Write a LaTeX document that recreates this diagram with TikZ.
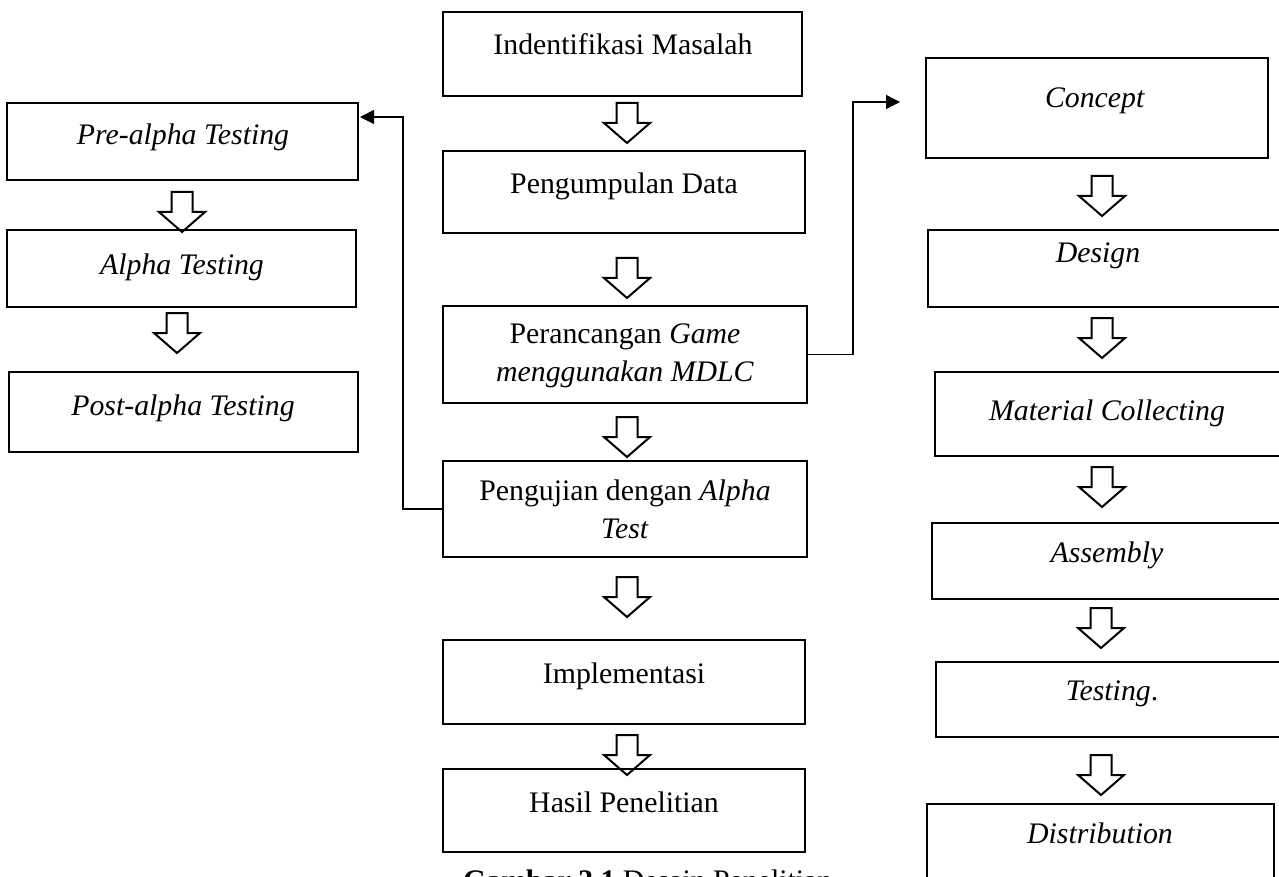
\documentclass[tikz,border=0pt]{standalone}
\usepackage{fontspec}
\setmainfont{Liberation Serif}
\usetikzlibrary{arrows.meta}
\newcommand{\twoline}[2]{\begin{tabular}[t]{@{}c@{}}#1\\#2\end{tabular}}
\newcommand{\boxnode}[5]{\node[box, minimum width={#4-#2}, minimum height={#5-#3}] (#1) at ({(#2+#4)/2},{(#3+#5)/2}) {};}
\begin{document}
\begin{tikzpicture}[x=1pt,y=-1pt,
  box/.style={draw, line width=2.5pt, inner sep=0pt},
  txt/.style={font=\fontsize{29.8}{38}\selectfont, anchor=base, inner sep=0pt},
  conn/.style={line width=1.2pt, -{Triangle[length=14pt,width=14pt]}},
  blockarrow/.pic={\draw[line width=2pt, line join=miter] (-10.5,0) -- (10.5,0) -- (10.5,20) -- (23,20) -- (0,40) -- (-23,20) -- (-10.5,20) -- cycle;}
]
\useasboundingbox[fill=white] (0,0) rectangle (1279,877);

% centre column
\boxnode{b1}{443}{12}{802}{96}
\boxnode{b2}{443}{151}{805}{233}
\boxnode{b3}{443}{306}{807}{403}
\boxnode{b4}{443}{461}{807}{557}
\boxnode{b5}{443}{640}{805}{724}
\boxnode{b6}{443}{769}{805}{852}
\node[txt] (tb1) at (623,55) {Indentifikasi Masalah};
\node[txt] (tb2) at (624,194) {Pengumpulan Data};
\node[txt] (tb3) at (625,343) {\twoline{Perancangan \textit{Game}}{\textit{menggunakan MDLC}}};
\node[txt] (tb4) at (625,500) {\twoline{Pengujian dengan \textit{Alpha}}{\textit{Test}}};
\node[txt] (tb5) at (624,683) {Implementasi};
\node[txt] (tb6) at (624,812) {Hasil Penelitian};
\node[txt, anchor=base west] (cap) at (463,890) {\textbf{Gambar 3.1} Desain Penelitian};

\pic at (627,103) {blockarrow};
\pic at (627,258) {blockarrow};
\pic at (627,417) {blockarrow};
\pic at (627,577) {blockarrow};
\pic at (627,735) {blockarrow};

% left column
\boxnode{l1}{7}{103}{358}{180}
\boxnode{l2}{7}{230}{356}{307}
\boxnode{l3}{9}{372}{358}{452}
\node[txt] (tl1) at (183,145) {\textit{Pre-alpha Testing}};
\node[txt] (tl2) at (182,275) {\textit{Alpha Testing}};
\node[txt] (tl3) at (183,415) {\textit{Post-alpha Testing}};
\pic at (182,192) {blockarrow};
\pic at (177,313) {blockarrow};

% right column
\boxnode{r1}{926}{58}{1268}{158}
\boxnode{r2}{928}{230}{1281}{307}
\boxnode{r3}{935}{372}{1285}{456}
\boxnode{r4}{932}{523}{1285}{599}
\boxnode{r5}{936}{662}{1285}{737}
\boxnode{r6}{927}{804}{1274}{895}
\node[txt] (tr1) at (1095,108) {\textit{Concept}};
\node[txt] (tr2) at (1098,262) {\textit{Design}};
\node[txt] (tr3) at (1107,420) {\textit{Material Collecting}};
\node[txt] (tr4) at (1107,562) {\textit{Assembly}};
\node[txt] (tr5) at (1112,700) {\textit{Testing}.};
\node[txt] (tr6) at (1100,843) {\textit{Distribution}};
\pic at (1102,176) {blockarrow};
\pic at (1102,318) {blockarrow};
\pic at (1102,467) {blockarrow};
\pic at (1101,608) {blockarrow};
\pic at (1101,755) {blockarrow};

% connectors
\coordinate (k1) at (403,117);
\coordinate (e1) at (360,117);
\coordinate (k2) at (853,102);
\coordinate (e2) at (900,102);
\draw[conn] (b4.west) -| (k1) -- (e1);
\draw[conn] (b3.east) -| (k2) -- (e2);
\end{tikzpicture}
\end{document}
